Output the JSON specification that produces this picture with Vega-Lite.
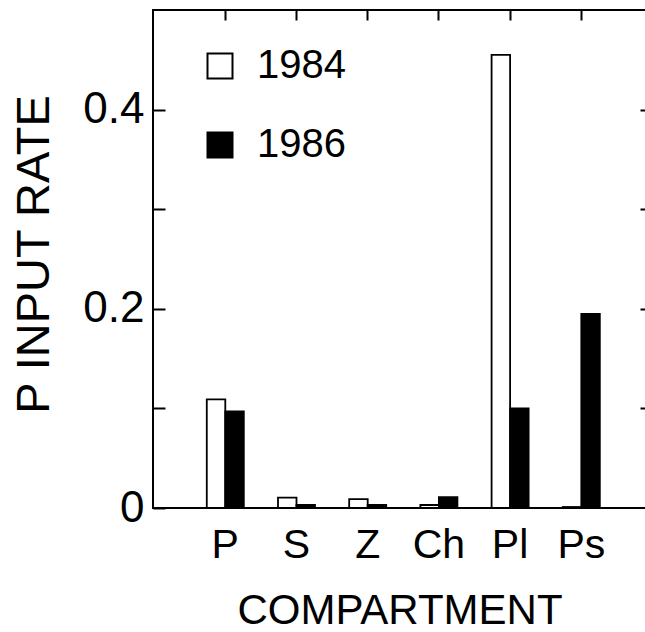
{
  "$schema": "https://vega.github.io/schema/vega-lite/v6.json",
  "width": 493,
  "height": 498,
  "autosize": "none",
  "padding": {"left": 153, "top": 10, "right": 0, "bottom": 124},
  "background": "white",
  "config": {
    "font": "Liberation Sans",
    "view": {"stroke": "black", "strokeWidth": 2},
    "axis": {"domain": false, "grid": false, "labelColor": "black", "titleColor": "black", "tickColor": "black", "tickWidth": 2, "labelFont": "Liberation Sans", "titleFont": "Liberation Sans", "titleFontWeight": "normal"}
  },
  "data": {
    "values": [
      {"compartment": "P", "year": "1984", "rate": 0.109},
      {"compartment": "P", "year": "1986", "rate": 0.097},
      {"compartment": "S", "year": "1984", "rate": 0.0105},
      {"compartment": "S", "year": "1986", "rate": 0.003},
      {"compartment": "Z", "year": "1984", "rate": 0.009},
      {"compartment": "Z", "year": "1986", "rate": 0.003},
      {"compartment": "Ch", "year": "1984", "rate": 0.003},
      {"compartment": "Ch", "year": "1986", "rate": 0.011},
      {"compartment": "Pl", "year": "1984", "rate": 0.455},
      {"compartment": "Pl", "year": "1986", "rate": 0.1},
      {"compartment": "Ps", "year": "1984", "rate": 0.001},
      {"compartment": "Ps", "year": "1986", "rate": 0.195}
    ]
  },
  "resolve": {"axis": {"x": "independent", "y": "independent"}},
  "layer": [
    {
      "mark": {"type": "bar", "stroke": "black", "strokeWidth": 1.8},
      "encoding": {
        "x": {
          "field": "compartment", "type": "nominal", "sort": ["P", "S", "Z", "Ch", "Pl", "Ps"],
          "scale": {"paddingInner": 0.48, "paddingOuter": 0.702, "align": 0.538},
          "axis": {"orient": "bottom", "title": "COMPARTMENT", "labelAngle": 0, "labelFontSize": 41, "labelPadding": 17, "ticks": false, "tickSize": 0, "titleFontSize": 42, "titleBaseline": "alphabetic", "titleY": 115}
        },
        "xOffset": {"field": "year", "type": "nominal", "scale": {"paddingInner": 0, "paddingOuter": 0}},
        "y": {
          "field": "rate", "type": "quantitative",
          "scale": {"domain": [0, 0.5], "nice": false, "zero": true},
          "axis": {"orient": "left", "title": "P INPUT RATE", "values": [0, 0.1, 0.2, 0.3, 0.4], "format": ".1~f", "labelExpr": "datum.label == '0.1' || datum.label == '0.3' ? '' : datum.label", "labelFontSize": 44, "tickSize": -12, "labelPadding": 21, "titleFontSize": 47, "titleBaseline": "alphabetic", "titleX": -105, "titleY": 244}
        },
        "fill": {
          "field": "year", "type": "nominal",
          "scale": {"domain": ["1984", "1986"], "range": ["white", "black"]},
          "legend": {"orient": "none", "legendX": 47, "legendY": 36, "title": null, "symbolType": "square", "symbolSize": 625, "symbolStrokeColor": "black", "symbolStrokeWidth": 2, "labelFontSize": 40, "labelFont": "Liberation Sans", "labelColor": "black", "labelOffset": 17, "rowPadding": 39, "padding": 0}
        }
      }
    },
    {
      "mark": {"type": "bar", "opacity": 0},
      "encoding": {
        "x": {
          "field": "compartment", "type": "nominal", "sort": ["P", "S", "Z", "Ch", "Pl", "Ps"],
          "axis": {"orient": "top", "title": null, "labels": false, "tickSize": -10}
        },
        "y": {
          "field": "rate", "type": "quantitative",
          "axis": {"orient": "right", "title": null, "labels": false, "values": [0.1, 0.2, 0.3, 0.4], "tickSize": -6}
        }
      }
    }
  ]
}
